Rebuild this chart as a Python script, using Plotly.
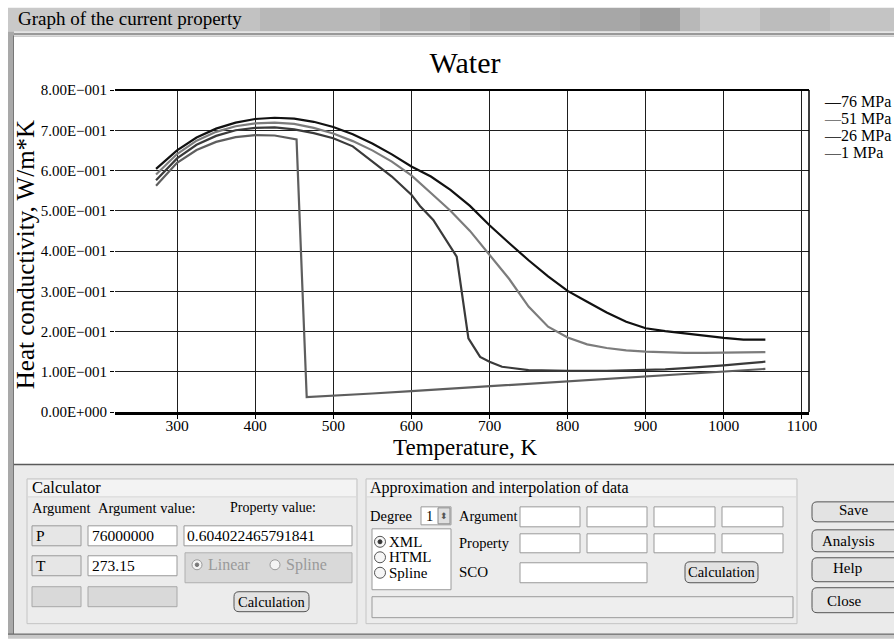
import plotly.graph_objects as go

# ---------------- data ----------------
series_names = ["76 MPa", "51 MPa", "26 MPa", "1 MPa"]
series_colors = ["#111111", "#7c7c7c", "#3a3a3a", "#5e5e5e"]

t_76 = [273.15, 300, 325, 350, 375, 400, 425, 450, 475, 500, 525, 550, 575, 600, 625, 650, 675,
        700, 725, 750, 775, 800, 825, 850, 875, 900, 925, 950, 975, 1000, 1025, 1053.15]
k_76 = [0.604, 0.650, 0.682, 0.704, 0.719, 0.728, 0.731, 0.729, 0.721, 0.708, 0.690, 0.667, 0.640,
        0.610, 0.585, 0.552, 0.512, 0.464, 0.420, 0.377, 0.337, 0.301, 0.274, 0.247, 0.224, 0.208,
        0.201, 0.195, 0.189, 0.184, 0.180, 0.180]

t_51 = [273.15, 300, 325, 350, 375, 400, 425, 450, 475, 500, 525, 550, 575, 600, 625, 650, 675,
        700, 725, 750, 775, 800, 825, 850, 875, 900, 925, 950, 975, 1000, 1025, 1053.15]
k_51 = [0.590, 0.641, 0.674, 0.696, 0.710, 0.717, 0.719, 0.716, 0.706, 0.692, 0.673, 0.650, 0.622,
        0.588, 0.544, 0.500, 0.450, 0.391, 0.331, 0.262, 0.212, 0.185, 0.168, 0.159, 0.153, 0.150,
        0.148, 0.147, 0.147, 0.147, 0.148, 0.149]

t_26 = [273.15, 300, 325, 350, 375, 400, 425, 450, 475, 500, 525, 550, 575, 600, 611, 628, 640,
        658, 673, 688, 700, 716, 750, 800, 850, 900, 925, 950, 975, 1000, 1025, 1053.15]
k_26 = [0.576, 0.630, 0.664, 0.686, 0.700, 0.706, 0.707, 0.702, 0.693, 0.680, 0.660, 0.623, 0.585,
        0.540, 0.512, 0.477, 0.440, 0.386, 0.183, 0.137, 0.125, 0.1125, 0.104, 0.102, 0.102, 0.104,
        0.106, 0.109, 0.112, 0.116, 0.120, 0.125]

t_1 = [273.15, 300, 325, 350, 375, 400, 425, 453, 466, 500, 550, 600, 650, 700, 750, 800, 850,
       900, 950, 1000, 1053.15]
k_1 = [0.562, 0.619, 0.651, 0.671, 0.683, 0.688, 0.687, 0.677, 0.037, 0.040, 0.046, 0.052, 0.058,
       0.064, 0.070, 0.076, 0.082, 0.088, 0.094, 0.100, 0.107]

x_ticks = [300, 400, 500, 600, 700, 800, 900, 1000, 1100]
y_ticks = [0.0, 0.1, 0.2, 0.3, 0.4, 0.5, 0.6, 0.7, 0.8]
y_ticktext = ["0.00E+000", "1.00E\u2212001", "2.00E\u2212001", "3.00E\u2212001", "4.00E\u2212001",
              "5.00E\u2212001", "6.00E\u2212001", "7.00E\u2212001", "8.00E\u2212001"]

# ---------------- layout geometry ----------------
FW, FH = 894, 639
L, R, T, B = 115, 809, 89.5, 412
PW, PH = R - L, B - T
FONT = "Liberation Serif"


def px(x):
    return (x - L) / PW


def py(y):
    return (B - y) / PH


shapes = []
annots = []


def rect(x0, y0, x1, y1, fill=None, line="#888888", lw=1, layer="above"):
    shapes.append(dict(type="rect", xref="paper", yref="paper",
                       x0=px(x0), x1=px(x1), y0=py(y1), y1=py(y0),
                       fillcolor=fill if fill else "rgba(0,0,0,0)",
                       line=dict(color=line if line else "rgba(0,0,0,0)", width=lw if line else 0),
                       layer=layer))


def circle(cx, cy, r, fill="#ffffff", line="#666666", lw=1):
    shapes.append(dict(type="circle", xref="paper", yref="paper",
                       x0=px(cx - r), x1=px(cx + r), y0=py(cy + r), y1=py(cy - r),
                       fillcolor=fill, line=dict(color=line, width=lw)))


def hline(x0, x1, y, color="#000", w=1):
    shapes.append(dict(type="line", xref="paper", yref="paper", x0=px(x0), x1=px(x1),
                       y0=py(y), y1=py(y), line=dict(color=color, width=w)))


def vline(x, y0, y1, color="#000", w=1):
    shapes.append(dict(type="line", xref="paper", yref="paper", x0=px(x), x1=px(x),
                       y0=py(y0), y1=py(y1), line=dict(color=color, width=w)))


def rrect(x0, y0, x1, y1, r=5, fill="#e4e4e4", line="#555555", lw=1):
    X0, X1, Y0, Y1 = px(x0), px(x1), py(y1), py(y0)
    rx, ry = r / PW, r / PH
    path = (f"M{X0+rx},{Y0} L{X1-rx},{Y0} Q{X1},{Y0} {X1},{Y0+ry} L{X1},{Y1-ry} "
            f"Q{X1},{Y1} {X1-rx},{Y1} L{X0+rx},{Y1} Q{X0},{Y1} {X0},{Y1-ry} "
            f"L{X0},{Y0+ry} Q{X0},{Y0} {X0+rx},{Y0} Z")
    shapes.append(dict(type="path", xref="paper", yref="paper", path=path,
                       fillcolor=fill, line=dict(color=line, width=lw)))


def text(x, y, s, size=13, anchor="left", color="#000", angle=0):
    annots.append(dict(xref="paper", yref="paper", x=px(x), y=py(y), text=s, showarrow=False,
                       xanchor=anchor, yanchor="middle", textangle=angle,
                       font=dict(family=FONT, size=size, color=color)))


# ---- window chrome ----
bar = [(8, 120, "#c9c9c9"), (120, 260, "#c2c2c2"), (260, 380, "#b8b8b8"), (380, 470, "#b0b0b0"),
       (470, 560, "#aaaaaa"), (560, 640, "#a7a7a7"), (640, 680, "#9f9f9f"), (680, 700, "#b8b8b8"),
       (700, 760, "#c9c9c9"), (760, 830, "#bcbcbc"), (830, 894, "#c4c4c4")]
for a, b, c in bar:
    rect(a, 7, b, 31, fill=c, line=None)
hline(8, 894, 31.5, "#dddddd", 1.5)
hline(8, 894, 33.5, "#777777", 1.5)
hline(8, 894, 35.5, "#aaaaaa", 1)
rect(8, 31, 14, 636, fill="#a9a9a9", line=None)
vline(13.5, 35, 636, "#777777", 1)
rect(14, 464, 894, 634, fill="#ebebeb", line=None)
hline(14, 894, 464.5, "#5a5a5a", 1.5)
hline(8, 894, 634.5, "#6a6a6a", 1.5)
rect(8, 635, 894, 639, fill="#c8c8c8", line=None)

# ---- Calculator group ----
rect(27, 479, 357, 624, fill="#ececec", line="#c4c4c4")
rect(28, 480, 356, 497, fill="#f3f3f3", line=None)
hline(28, 356, 497, "#d6d6d6", 1)
text(30, 488, "Calculator", 16.5)
text(30, 508, "Argument", 14.5)
text(96, 508, "Argument value:", 14.5)
text(228, 508, "Property value:", 14)
rect(32, 526, 81, 546, fill="#e6e6e6", line="#9a9a9a")
rect(88, 526, 177, 546, fill="#ffffff", line="#9a9a9a")
rect(184, 526, 352, 546, fill="#ffffff", line="#9a9a9a")
text(34, 536, "P", 15.5)
text(90, 536, "76000000", 15.5)
text(185, 536, "0.604022465791841", 15.5)
rect(32, 556, 81, 576, fill="#e6e6e6", line="#9a9a9a")
rect(88, 556, 177, 576, fill="#ffffff", line="#9a9a9a")
text(34, 566, "T", 15.5)
text(90, 566, "273.15", 15.5)
rect(185, 553, 352, 583, fill="#d9d9d9", line="#b0b0b0")
circle(197, 565, 5, fill="#f4f4f4", line="#9a9a9a")
circle(197, 565, 1.8, fill="#777777", line="#777777")
text(206, 565, "Linear", 16, color="#9a9a9a")
circle(275, 565, 5, fill="#f4f4f4", line="#9a9a9a")
text(284, 565, "Spline", 16, color="#9a9a9a")
rect(32, 587, 81, 607, fill="#d9d9d9", line="#a8a8a8")
rect(88, 587, 177, 607, fill="#d9d9d9", line="#a8a8a8")
rrect(234, 592, 309, 612, r=5, fill="#e2e2e2", line="#555555")
text(271.5, 602, "Calculation", 14.5, anchor="center")

# ---- Approximation group ----
rect(366, 479, 797, 624, fill="#ececec", line="#c4c4c4")
rect(367, 480, 796, 497, fill="#f3f3f3", line=None)
hline(367, 796, 497, "#d6d6d6", 1)
text(368, 488, "Approximation and interpolation of data", 16)
text(368, 516, "Degree", 14.5)
rect(421, 507, 451, 525, fill="#ffffff", line="#9a9a9a")
text(424, 516, "1", 14.5)
rect(438, 508, 450, 524, fill="#e0e0e0", line="#8a8a8a")
text(444, 516, "\u2b0d", 9, anchor="center", color="#555")
rect(372, 529, 451, 590, fill="#ffffff", line="#9a9a9a")
for i, lab in enumerate(["XML", "HTML", "Spline"]):
    cy = 542 + 15.5 * i
    circle(380, cy, 5.5, fill="#f6f6f6", line="#555555")
    if i == 0:
        circle(380, cy, 2, fill="#333333", line="#333333")
    text(387, cy, lab, 15)
text(457, 516, "Argument", 14.5)
text(457, 543, "Property", 14.5)
text(457, 572, "SCO", 15)
for (a, b) in [(520, 580), (587, 647), (654, 715), (722, 783)]:
    rect(a, 507, b, 527, fill="#ffffff", line="#9a9a9a")
    rect(a, 534, b, 553, fill="#ffffff", line="#9a9a9a")
rect(520, 563, 647, 583, fill="#ffffff", line="#9a9a9a")
rrect(685, 562, 758, 583, r=5, fill="#e2e2e2", line="#555555")
text(721.5, 572.5, "Calculation", 14.5, anchor="center")
rect(372, 597, 793, 618, fill="#eeeeee", line="#9a9a9a")

# ---- right buttons ----
for (y0, y1) in [(502, 522), (530, 552), (558, 582), (588, 613)]:
    rrect(812, y0, 905, y1, r=5, fill="#e3e3e3", line="#555555")
for (yy, lab, xx) in [(510, "Save", 837), (541, "Analysis", 820), (568, "Help", 831), (601, "Close", 825)]:
    text(xx, yy, lab, 15)

# ---- plot frame ----
hline(L, R, T, "#000000", 2)
vline(R, T, B, "#000000", 1.5)

text(16, 18, "Graph of the current property", 19)

# axis titles
text(465, 448, "Temperature, K", 23, anchor="center")
text(25, 255, "Heat conductivity, W/m*K", 25, anchor="center", angle=-90)

# legend (coloured dash + label)
for i, (name, col) in enumerate(zip(series_names, series_colors)):
    annots.append(dict(xref="paper", yref="paper", x=px(822), y=py(101 + 17 * i),
                       text=f"<span style='color:{col}'>\u2014</span>{name}", showarrow=False,
                       xanchor="left", yanchor="middle",
                       font=dict(family=FONT, size=16, color="#000")))

# ---------------- traces ----------------
fig = go.Figure()
for name, col, xs, ys in zip(series_names, series_colors,
                             [t_76, t_51, t_26, t_1], [k_76, k_51, k_26, k_1]):
    fig.add_trace(go.Scatter(x=xs, y=ys, mode="lines", name=name,
                             line=dict(color=col, width=2.2), showlegend=False))

fig.update_layout(
    width=FW, height=FH, autosize=False,
    margin=dict(l=L, r=FW - R, t=T, b=FH - B, pad=0),
    paper_bgcolor="#ffffff", plot_bgcolor="#ffffff",
    title=dict(text="Water", xref="container", x=465 / FW, xanchor="center",
               yref="container", y=1 - 62 / FH, yanchor="middle",
               font=dict(family=FONT, size=30, color="#000")),
    font=dict(family=FONT, color="#000"),
    shapes=shapes, annotations=annots,
)
fig.update_xaxes(range=[220.6, 1109], tickmode="array", tickvals=x_ticks,
                 ticks="outside", ticklen=4, tickcolor="#000", tickfont=dict(size=15.5),
                 ticklabelstandoff=-6,
                 showgrid=True, gridcolor="#1e1e1e", gridwidth=1.2, zeroline=False,
                 showline=True, linecolor="#000", linewidth=2.5)
fig.update_yaxes(range=[0, 0.8], tickmode="array", tickvals=y_ticks, ticktext=y_ticktext,
                 ticks="outside", ticklen=4, tickcolor="#000", tickfont=dict(size=15),
                 showgrid=True, gridcolor="#1e1e1e", gridwidth=1.2, zeroline=False,
                 showline=False)

fig.write_html("out.html", config={"displayModeBar": False},
               post_script="document.body.style.margin='0';")
